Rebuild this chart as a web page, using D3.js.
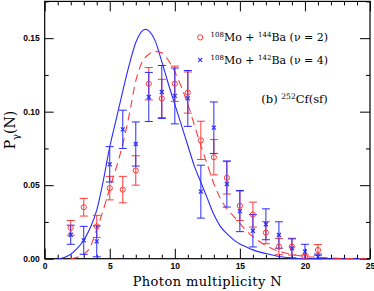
<!DOCTYPE html>
<meta charset="utf-8">
<script src="https://d3js.org/d3.v7.min.js"></script>
<style>
  body { margin: 0; background: #fff; }
  .tick text { font-family: "Liberation Sans", Arial, sans-serif; font-weight: bold; font-size: 8.5px; }
</style>
<div id="chart"></div>
<script>
// multiplicity values
var nVals = [2,3,4,5,6,7,8,9,10,11,12,13,14,15,16,17,18,19,20,21];

// 108Mo + 144Ba (nu = 2), red circles
var redVals = [0.021,0.035,0.022,0.048,0.047,0.060,0.119,0.109,0.119,0.113,0.0805,0.069,0.055,0.036,0.030,0.0177,0.0082,0.0082,0.0014,0.0059];
var redErr  = [0.005,0.006,0.0075,0.008,0.009,0.010,0.011,0.013,0.012,0.014,0.013,0.012,0.011,0.010,0.0085,0.0075,0.0055,0.0057,0.0012,0.0037];

// 108Mo + 142Ba (nu = 4), blue crosses
var blueVals = [0.0163,0.0125,0.0118,0.0642,0.088,0.078,0.110,0.1134,0.1107,0.109,0.0456,0.0891,0.0508,0.0324,0.019,0.0234,0.0161,0.007,0.0048,0.0014];
var blueErr  = [0.0065,0.0095,0.0105,0.012,0.013,0.015,0.0167,0.018,0.019,0.019,0.018,0.0175,0.0157,0.014,0.011,0.0105,0.009,0.0065,0.005,0.0018];

// calculated curves
var blueCurveN = [1.0,1.5,2,2.5,3,3.5,4,4.5,5,5.5,6,6.5,7,7.5,7.75,8,8.5,9,9.5,10,10.5,11,11.5,12,12.5,13,13.5,14,14.5,15,15.5,16,17,18,19,20,24.5];
var blueCurveP = [0,0.0008,0.003,0.007,0.0125,0.021,0.033,0.053,0.076,0.095,0.114,0.132,0.147,0.155,0.156,0.155,0.148,0.134,0.119,0.105,0.091,0.077,0.063,0.052,0.041,0.030,0.022,0.017,0.013,0.010,0.008,0.006,0.0035,0.0015,0.0005,0,0];

var redCurveN = [2,2.5,3,3.5,4,4.5,5,5.5,6,6.5,7,7.5,8,8.5,9,9.5,10,10.5,11,11.5,12,12.5,13,13.5,14,14.5,15,15.5,16,17,18,19,20,21,22,24,24.8];
var redCurveP = [0,0.001,0.003,0.008,0.02,0.033,0.048,0.062,0.078,0.098,0.121,0.134,0.139,0.141,0.140,0.135,0.127,0.117,0.105,0.091,0.077,0.064,0.051,0.041,0.034,0.029,0.024,0.019,0.015,0.009,0.005,0.003,0.0015,0.001,0.0005,0,0];

var xTicks = [0,5,10,15,20,25];
var yTicks = [0,0.05,0.10,0.15];

var red = "#ff3a3a", blue = "#2a2aff";

var margin = {top: 1.4, right: 4, bottom: 32.3, left: 44.7},
    width = 374 - margin.left - margin.right,
    height = 291 - margin.top - margin.bottom;

var svg = d3.select("#chart").append("svg")
    .attr("width", 374).attr("height", 291)
  .append("g")
    .attr("transform", "translate(" + margin.left + "," + margin.top + ")");

var x = d3.scaleLinear().domain([0, 25]).range([0, width]);
var y = d3.scaleLinear().domain([0, 0.175]).range([height, 0]);

// axes: inside ticks on all four sides
function tickAxes() {
  var minorX = d3.range(0, 26, 1).filter(function(d){ return d % 5 != 0; });
  var minorY = [0.025, 0.075, 0.125, 0.175];
  svg.append("g").attr("transform", "translate(0," + height + ")")
    .call(d3.axisBottom(x).tickValues(xTicks).tickFormat(d3.format("d")).tickSizeInner(-10).tickSizeOuter(0).tickPadding(4));
  svg.append("g").attr("transform", "translate(0," + height + ")")
    .call(d3.axisBottom(x).tickValues(minorX).tickFormat("").tickSizeInner(-4).tickSizeOuter(0));
  svg.append("g")
    .call(d3.axisTop(x).tickValues(xTicks).tickFormat("").tickSizeInner(-10).tickSizeOuter(0));
  svg.append("g")
    .call(d3.axisTop(x).tickValues(minorX).tickFormat("").tickSizeInner(-4).tickSizeOuter(0));
  svg.append("g")
    .call(d3.axisLeft(y).tickValues(yTicks).tickFormat(d3.format(".2f")).tickSizeInner(-9).tickSizeOuter(0).tickPadding(5));
  svg.append("g")
    .call(d3.axisLeft(y).tickValues(minorY).tickFormat("").tickSizeInner(-4).tickSizeOuter(0));
  svg.append("g").attr("transform", "translate(" + width + ",0)")
    .call(d3.axisRight(y).tickValues(yTicks).tickFormat("").tickSizeInner(-10).tickSizeOuter(0));
  svg.append("g").attr("transform", "translate(" + width + ",0)")
    .call(d3.axisRight(y).tickValues(minorY).tickFormat("").tickSizeInner(-4).tickSizeOuter(0));
  svg.selectAll(".domain").remove();
  svg.selectAll(".tick line").attr("stroke", "#000").attr("stroke-width", 1);
  svg.append("rect").attr("width", width).attr("height", height)
    .attr("fill", "none").attr("stroke", "#000").attr("stroke-width", 1.2);
}
tickAxes();

// curves
var line = d3.line().curve(d3.curveMonotoneX)
  .x(function(d){ return x(d[0]); }).y(function(d){ return y(d[1]); });

svg.append("path")
  .datum(blueCurveN.map(function(n, i){ return [n, blueCurveP[i]]; }))
  .attr("d", line).attr("fill", "none").attr("stroke", blue).attr("stroke-width", 1.1);

svg.append("path")
  .datum(redCurveN.map(function(n, i){ return [n, redCurveP[i]]; }))
  .attr("d", line).attr("fill", "none").attr("stroke", red).attr("stroke-width", 1.1)
  .attr("stroke-dasharray", "8,5");

// error bars
function errorBars(vals, errs, color) {
  var g = svg.append("g").attr("stroke", color).attr("stroke-width", 1);
  nVals.forEach(function(n, i) {
    var cx = x(n), lo = y(Math.max(0, vals[i] - errs[i])), hi = y(vals[i] + errs[i]);
    g.append("line").attr("x1", cx).attr("x2", cx).attr("y1", lo).attr("y2", hi);
    g.append("line").attr("x1", cx - 4).attr("x2", cx + 4).attr("y1", lo).attr("y2", lo);
    g.append("line").attr("x1", cx - 4).attr("x2", cx + 4).attr("y1", hi).attr("y2", hi);
  });
}
errorBars(redVals, redErr, red);
errorBars(blueVals, blueErr, blue);

// markers
svg.append("g").selectAll("circle").data(redVals).enter().append("circle")
  .attr("cx", function(d, i){ return x(nVals[i]); })
  .attr("cy", function(d){ return y(d); })
  .attr("r", 2.6).attr("fill", "none").attr("stroke", red).attr("stroke-width", 1);

svg.append("g").selectAll("path").data(blueVals).enter().append("path")
  .attr("d", "M-2,-2L2,2M-2,2L2,-2")
  .attr("transform", function(d, i){ return "translate(" + x(nVals[i]) + "," + y(d) + ")"; })
  .attr("stroke", blue).attr("stroke-width", 1.2);

// legend
var serif = "'DejaVu Serif', 'Liberation Serif', serif";
var legend = svg.append("g").attr("font-family", serif).attr("font-size", "11px");
legend.append("circle").attr("cx", x(11.95)).attr("cy", 36).attr("r", 2.6)
  .attr("fill", "none").attr("stroke", red);
legend.append("path").attr("d", "M-2,-2L2,2M-2,2L2,-2")
  .attr("transform", "translate(" + x(11.95) + ",58.5)").attr("stroke", blue).attr("stroke-width", 1.1);

function isoText(yPos, a, nu) {
  var t = legend.append("text").attr("x", x(12.75)).attr("y", yPos).attr("fill", "#000");
  t.append("tspan").attr("font-size", "7px").attr("dy", -4).text("108");
  t.append("tspan").attr("dy", 4).text("Mo + ");
  t.append("tspan").attr("font-size", "7px").attr("dy", -4).text(a);
  t.append("tspan").attr("dy", 4).text("Ba (\u03bd = " + nu + ")");
}
isoText(40, "144", 2);
isoText(62.5, "142", 4);

var lab = legend.append("text").attr("x", x(16.65)).attr("y", 102).attr("font-size", "11.5px");
lab.append("tspan").text("(b) ");
lab.append("tspan").attr("font-size", "7.5px").attr("dy", -4.5).text("252");
lab.append("tspan").attr("dy", 4.5).text("Cf(sf)");

// axis titles
svg.append("text").attr("x", width / 2).attr("y", height + 27)
  .attr("text-anchor", "middle").attr("font-family", serif).attr("font-size", "13px")
  .attr("letter-spacing", "0.4px").text("Photon multiplicity N");

var yl = svg.append("text").attr("transform", "translate(-30," + (height / 2) + ") rotate(-90)")
  .attr("text-anchor", "middle").attr("font-family", serif).attr("font-size", "14px");
yl.append("tspan").text("P");
yl.append("tspan").attr("font-size", "10px").attr("dy", 4).text("\u03b3");
yl.append("tspan").attr("dy", -4).text("(N)");
</script>
